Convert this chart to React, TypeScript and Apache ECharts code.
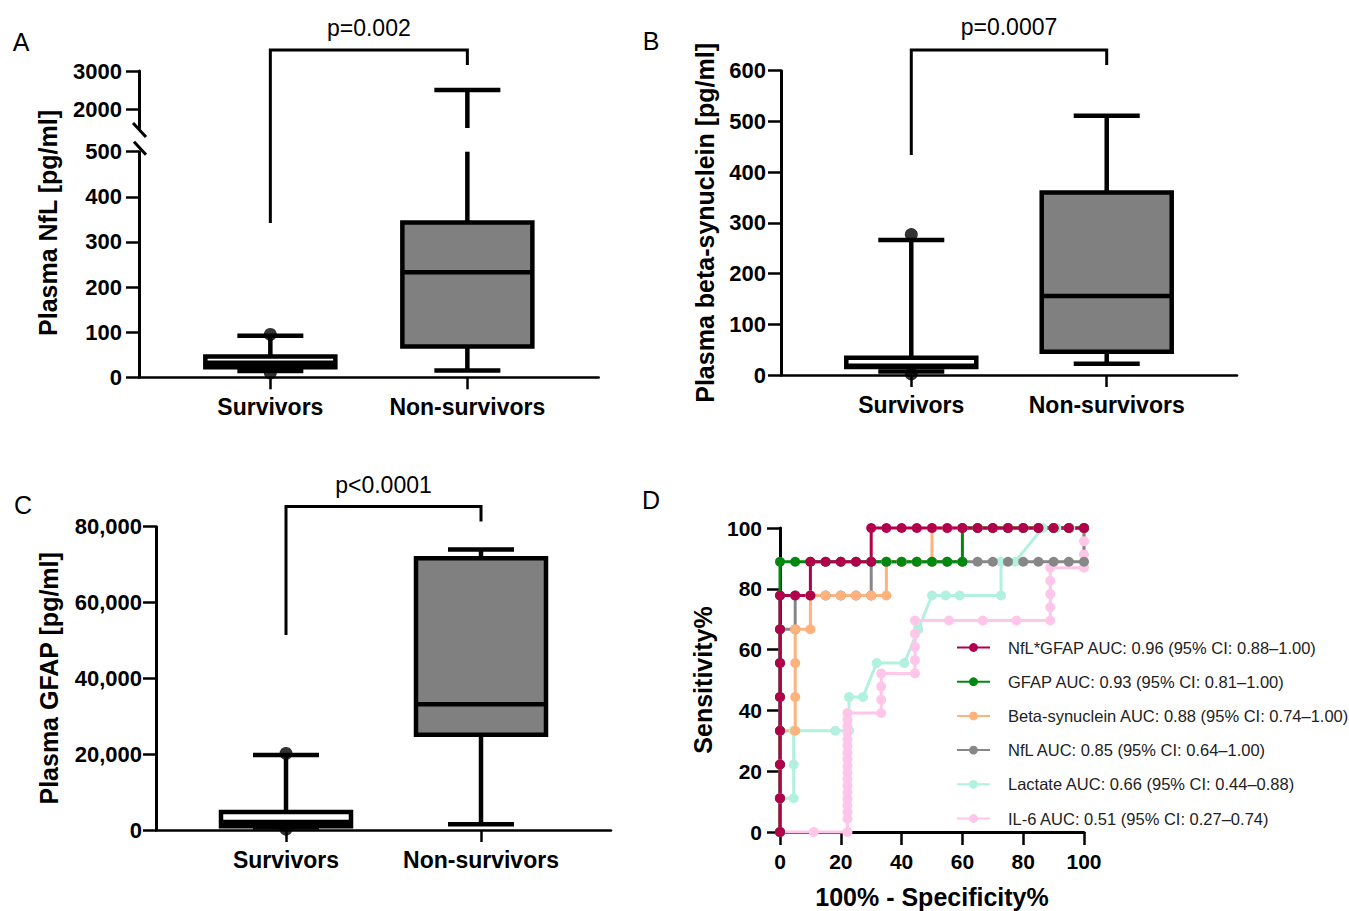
import React, { useEffect, useRef } from "react";
import * as echarts from "echarts";

const FONT = "'Liberation Sans', Arial, Helvetica, sans-serif";

const CATEGORIES = ["Survivors", "Non-survivors"];
const P_LABELS = ["p=0.002", "p=0.0007", "p<0.0001"];

// box statistics: [min, Q1, median, Q3, max]
const NFL_BOX = [
  [14, 22, 32, 46, 92],
  [15, 68, 233, 343, 2500],
];
const NFL_DOTS = [[1, 95], [1, 10]];
const BETA_BOX = [
  [7, 16, 18, 34, 266],
  [22, 46, 156, 360, 511],
];
const BETA_DOTS = [[1, 277], [1, 2]];
const GFAP_BOX = [
  [650, 1000, 2100, 4750, 19800],
  [1500, 25100, 33200, 71700, 74000],
];
const GFAP_DOTS = [[1, 20200], [1, 200]];
const BOX_FILLS = ["#ffffff", "#808080"];

// ROC curves: [100% - specificity, sensitivity]
const ROC_NFL_GFAP = [
  [0, 0], [0, 11.1], [0, 22.2], [0, 33.3], [0, 44.4], [0, 55.6], [0, 66.7], [0, 77.8],
  [5, 77.8], [10, 77.8], [10, 88.9], [15, 88.9], [20, 88.9], [25, 88.9], [30, 88.9],
  [30, 100], [35, 100], [40, 100], [45, 100], [50, 100], [55, 100], [60, 100], [65, 100],
  [70, 100], [75, 100], [80, 100], [85, 100], [90, 100], [95, 100], [100, 100],
];
const ROC_GFAP = [
  [0, 0], [0, 11.1], [0, 22.2], [0, 33.3], [0, 44.4], [0, 55.6], [0, 66.7], [0, 77.8], [0, 88.9],
  [5, 88.9], [10, 88.9], [15, 88.9], [20, 88.9], [25, 88.9], [30, 88.9], [35, 88.9], [40, 88.9],
  [45, 88.9], [50, 88.9], [55, 88.9], [60, 88.9], [60, 100], [65, 100], [70, 100], [75, 100],
  [80, 100], [85, 100], [90, 100], [95, 100], [100, 100],
];
const ROC_BETA = [
  [0, 0], [0, 11.1], [0, 22.2], [0, 33.3], [5, 33.3], [5, 44.4], [5, 55.6], [5, 66.7],
  [10, 66.7], [10, 77.8], [15, 77.8], [20, 77.8], [25, 77.8], [30, 77.8], [35, 77.8],
  [35, 88.9], [40, 88.9], [45, 88.9], [50, 88.9], [50, 100], [55, 100], [60, 100], [65, 100],
  [70, 100], [75, 100], [80, 100], [85, 100], [90, 100], [95, 100], [100, 100],
];
const ROC_NFL = [
  [0, 0], [0, 11.1], [0, 22.2], [0, 33.3], [0, 44.4], [0, 55.6], [0, 66.7], [5, 66.7],
  [5, 77.8], [10, 77.8], [15, 77.8], [20, 77.8], [25, 77.8], [30, 77.8], [30, 88.9],
  [35, 88.9], [40, 88.9], [45, 88.9], [50, 88.9], [55, 88.9], [60, 88.9], [65, 88.9],
  [70, 88.9], [75, 88.9], [80, 88.9], [85, 88.9], [90, 88.9], [95, 88.9], [100, 88.9], [100, 100],
];
const ROC_LACTATE = [
  [0, 0], [0, 11.1], [4.5, 11.1], [4.5, 22.2], [4.5, 33.3], [18.2, 33.3], [22.7, 33.3],
  [22.7, 44.4], [27.3, 44.4], [31.8, 55.6], [40.9, 55.6], [45.5, 66.7], [50, 77.8],
  [54.5, 77.8], [59.1, 77.8], [72.7, 77.8], [72.7, 88.9], [77.3, 88.9], [86.4, 100],
  [90.9, 100], [95.5, 100], [100, 100],
];
const ROC_IL6 = [
  [0, 0], [11.1, 0], [22.2, 0], [22.2, 4.35], [22.2, 6.52], [22.2, 8.7], [22.2, 10.87],
  [22.2, 13.04], [22.2, 15.22], [22.2, 17.39], [22.2, 19.57], [22.2, 21.74], [22.2, 23.91],
  [22.2, 26.09], [22.2, 28.26], [22.2, 30.43], [22.2, 32.61], [22.2, 34.78], [22.2, 36.96],
  [22.2, 39.13], [33.3, 39.13], [33.3, 43.48], [33.3, 47.83], [33.3, 52.17], [44.4, 52.17],
  [44.4, 56.52], [44.4, 60.87], [44.4, 65.22], [44.4, 69.57], [55.6, 69.57], [66.7, 69.57],
  [77.8, 69.57], [88.9, 69.57], [88.9, 73.91], [88.9, 78.26], [88.9, 82.61], [88.9, 86.96],
  [100, 86.96], [100, 91.3], [100, 95.65], [100, 100],
];

const ROC_NAMES = [
  "NfL*GFAP AUC: 0.96 (95% CI: 0.88–1.00)",
  "GFAP AUC: 0.93 (95% CI: 0.81–1.00)",
  "Beta-synuclein AUC: 0.88 (95% CI: 0.74–1.00)",
  "NfL AUC: 0.85 (95% CI: 0.64–1.00)",
  "Lactate AUC: 0.66 (95% CI: 0.44–0.88)",
  "IL-6 AUC: 0.51 (95% CI: 0.27–0.74)",
];
const ROC_COLORS = ["#b3004c", "#00880f", "#ffb27c", "#878787", "#b2f0df", "#ffc6ea"];
const ROC_DATA = [ROC_NFL_GFAP, ROC_GFAP, ROC_BETA, ROC_NFL, ROC_LACTATE, ROC_IL6];
// drawing order (bottom to top)
const ROC_ORDER = [4, 5, 3, 2, 1, 0];

const BOX_HALF = 65;
const CAP_HALF = 33;
const LW = 4.5;

const blk = { stroke: "#000", lineWidth: LW };

function boxRender(params: any, api: any) {
  const cat = api.value(0);
  const mn = api.value(1);
  const q1 = api.value(2);
  const med = api.value(3);
  const q3 = api.value(4);
  const mx = api.value(5);
  const cs = params.coordSys;
  const topLimit = cs.y;
  const pMin = api.coord([cat, mn]);
  const cx = pMin[0];
  const yMin = pMin[1];
  const yQ1 = api.coord([cat, q1])[1];
  const yMed = api.coord([cat, med])[1];
  const yQ3 = api.coord([cat, q3])[1];
  const yMaxRaw = api.coord([cat, mx])[1];
  const capTop = yMaxRaw >= topLimit - 0.5;
  const yMax = Math.max(yMaxRaw, topLimit);
  const children: any[] = [
    { type: "line", shape: { x1: cx, y1: yQ3, x2: cx, y2: yMax }, style: blk },
    { type: "line", shape: { x1: cx, y1: yQ1, x2: cx, y2: yMin }, style: blk },
    { type: "line", shape: { x1: cx - CAP_HALF, y1: yMin, x2: cx + CAP_HALF, y2: yMin }, style: blk },
  ];
  if (capTop) {
    children.push({ type: "line", shape: { x1: cx - CAP_HALF, y1: yMax, x2: cx + CAP_HALF, y2: yMax }, style: blk });
  }
  children.push({
    type: "rect",
    shape: { x: cx - BOX_HALF, y: yQ3, width: BOX_HALF * 2, height: yQ1 - yQ3 },
    style: { fill: BOX_FILLS[params.dataIndex], stroke: "#000", lineWidth: LW },
  });
  children.push({ type: "line", shape: { x1: cx - BOX_HALF, y1: yMed, x2: cx + BOX_HALF, y2: yMed }, style: blk });
  return { type: "group", children };
}

function upperWhiskerRender(params: any, api: any) {
  const cat = api.value(0);
  const mx = api.value(1);
  const cs = params.coordSys;
  const yBot = cs.y + cs.height;
  const p = api.coord([cat, mx]);
  if (p[1] >= yBot) return null;
  const cx = p[0];
  return {
    type: "group",
    children: [
      { type: "line", shape: { x1: cx, y1: yBot, x2: cx, y2: p[1] }, style: blk },
      { type: "line", shape: { x1: cx - CAP_HALF, y1: p[1], x2: cx + CAP_HALF, y2: p[1] }, style: blk },
    ],
  };
}

const tickLabel = (size: number, margin: number, extra: any = {}) => ({
  color: "#000",
  fontSize: size,
  fontWeight: "bold",
  fontFamily: FONT,
  margin,
  ...extra,
});

function catXAxis(gridIndex: number, show = true) {
  return {
    type: "value",
    gridIndex,
    min: 1 / 3,
    max: 8 / 3,
    show,
    axisLine: { show: true, onZero: false, lineStyle: { color: "#000", width: 2.5 } },
    axisTick: { show: true, customValues: [1, 2], length: 12, lineStyle: { color: "#000", width: 2.5 } },
    axisLabel: tickLabel(23, 18, {
      customValues: [1, 2],
      formatter: (v: number) => CATEGORIES[Math.round(v) - 1] ?? "",
    }),
    splitLine: { show: false },
  };
}

function valAxis(gridIndex: number, min: number, max: number, interval: number, labelSize: number, margin: number, extra: any = {}) {
  return {
    type: "value",
    gridIndex,
    min,
    max,
    interval,
    axisLine: { show: true, onZero: false, lineStyle: { color: "#000", width: 3 } },
    axisTick: { show: true, length: 13, lineStyle: { color: "#000", width: 2.5 } },
    axisLabel: tickLabel(labelSize, margin, { formatter: (v: number) => String(v) }),
    splitLine: { show: false },
    ...extra,
  };
}

const nameStyle = { color: "#000", fontSize: 25, fontWeight: "bold", fontFamily: FONT };

function buildOption() {
  const rocSeries = ROC_ORDER.map((i) => ({
    name: ROC_NAMES[i],
    type: "line",
    xAxisIndex: 4,
    yAxisIndex: 4,
    data: ROC_DATA[i],
    symbol: "circle",
    symbolSize: 10,
    showAllSymbol: true,
    clip: false,
    lineStyle: { color: ROC_COLORS[i], width: 3 },
    itemStyle: { color: ROC_COLORS[i] },
    emphasis: { disabled: true },
  }));

  return {
    animation: false,
    backgroundColor: "#fff",
    textStyle: { fontFamily: FONT },
    grid: [
      { left: 139, top: 151.7, width: 459.7, height: 225.6 },
      { left: 139, top: 71, width: 459.7, height: 57 },
      { left: 781, top: 70.7, width: 456, height: 304.3 },
      { left: 156, top: 526.7, width: 455, height: 303.3 },
      { left: 780, top: 528, width: 304, height: 304 },
    ],
    xAxis: [
      catXAxis(0),
      catXAxis(1, false),
      catXAxis(2),
      catXAxis(3),
      {
        ...valAxis(4, 0, 100, 20, 21, 19),
        name: "100% - Specificity%",
        nameLocation: "middle",
        nameGap: 52,
        nameTextStyle: nameStyle,
      },
    ],
    yAxis: [
      valAxis(0, 0, 500, 100, 22, 17),
      {
        ...valAxis(1, 1500, 3000, 500, 22, 17),
        axisTick: { show: true, length: 13, customValues: [2000, 3000], lineStyle: { color: "#000", width: 2.5 } },
        axisLabel: tickLabel(22, 17, { customValues: [2000, 3000], formatter: (v: number) => String(v) }),
      },
      {
        ...valAxis(2, 0, 600, 100, 22, 15),
        name: "Plasma beta-synuclein [pg/ml]",
        nameLocation: "middle",
        nameGap: 64,
        nameTextStyle: nameStyle,
      },
      {
        ...valAxis(3, 0, 80000, 20000, 22, 14),
        axisLabel: tickLabel(22, 14, {
          formatter: (v: number) => v.toLocaleString("en-US"),
        }),
        name: "Plasma GFAP [pg/ml]",
        nameLocation: "middle",
        nameGap: 95,
        nameTextStyle: nameStyle,
      },
      {
        ...valAxis(4, 0, 100, 20, 21, 18),
        name: "Sensitivity%",
        nameLocation: "middle",
        nameGap: 65,
        nameTextStyle: nameStyle,
      },
    ],
    legend: {
      orient: "vertical",
      left: 956,
      top: 639,
      padding: 0,
      itemWidth: 33,
      itemHeight: 11,
      itemGap: 17.2,
      selectedMode: false,
      data: ROC_NAMES,
      textStyle: { fontSize: 16.5, color: "#222", fontFamily: FONT, padding: [0, 0, 0, 13] },
    },
    series: [
      {
        type: "custom",
        xAxisIndex: 0,
        yAxisIndex: 0,
        renderItem: boxRender,
        data: NFL_BOX.map((b, i) => [i + 1, ...b]),
        encode: { x: 0, y: [1, 2, 3, 4, 5] },
        clip: false,
      },
      {
        type: "custom",
        xAxisIndex: 1,
        yAxisIndex: 1,
        renderItem: upperWhiskerRender,
        data: NFL_BOX.map((b, i) => [i + 1, b[4]]),
        encode: { x: 0, y: 1 },
        clip: false,
      },
      {
        type: "scatter",
        xAxisIndex: 0,
        yAxisIndex: 0,
        data: NFL_DOTS,
        symbolSize: 13,
        itemStyle: { color: "#000" },
        clip: false,
      },
      {
        type: "custom",
        xAxisIndex: 2,
        yAxisIndex: 2,
        renderItem: boxRender,
        data: BETA_BOX.map((b, i) => [i + 1, ...b]),
        encode: { x: 0, y: [1, 2, 3, 4, 5] },
        clip: false,
      },
      {
        type: "scatter",
        xAxisIndex: 2,
        yAxisIndex: 2,
        data: BETA_DOTS,
        symbolSize: 13,
        itemStyle: { color: "#000" },
        clip: false,
      },
      {
        type: "custom",
        xAxisIndex: 3,
        yAxisIndex: 3,
        renderItem: boxRender,
        data: GFAP_BOX.map((b, i) => [i + 1, ...b]),
        encode: { x: 0, y: [1, 2, 3, 4, 5] },
        clip: false,
      },
      {
        type: "scatter",
        xAxisIndex: 3,
        yAxisIndex: 3,
        data: GFAP_DOTS,
        symbolSize: 13,
        itemStyle: { color: "#000" },
        clip: false,
      },
      ...rocSeries,
    ],
  };
}

function buildGraphics(chart: any) {
  const px = (g: number, x: number, y: number) => chart.convertToPixel({ gridIndex: g }, [x, y]);
  const line = (a: number[], b: number[], w = 3) => ({
    type: "line",
    shape: { x1: a[0], y1: a[1], x2: b[0], y2: b[1] },
    style: { stroke: "#000", lineWidth: w },
    silent: true,
  });
  const text = (x: number, y: number, t: string, size: number, weight = "normal", rotation = 0) => ({
    type: "text",
    x,
    y,
    rotation,
    silent: true,
    style: {
      text: t,
      fill: "#000",
      fontSize: size,
      fontWeight: weight,
      fontFamily: FONT,
      align: "center",
      verticalAlign: "middle",
      textAlign: "center",
      textVerticalAlign: "middle",
    },
  });
  const bracket = (topL: number[], topR: number[], botL: number[], botR: number[]) => ({
    type: "polyline",
    shape: { points: [[topL[0], botL[1]], [topL[0], topL[1]], [topR[0], topR[1]], [topR[0], botR[1]]] },
    style: { stroke: "#000", lineWidth: 3, fill: "none" },
    silent: true,
  });
  const els: any[] = [];

  // panel A bracket (top in upper grid, left leg ends in lower grid)
  {
    const tl = px(1, 1, 3553);
    const tr = px(1, 2, 3553);
    const bl = px(0, 1, 342);
    const br = px(1, 2, 3158);
    els.push(bracket(tl, tr, bl, br));
    const t = px(1, 1.5, 4130);
    els.push(text(t[0], t[1], P_LABELS[0], 23));
  }
  {
    const tl = px(2, 1, 641);
    const tr = px(2, 2, 641);
    const bl = px(2, 1, 434);
    const br = px(2, 2, 611);
    els.push(bracket(tl, tr, bl, br));
    const t = px(2, 1.5, 686);
    els.push(text(t[0], t[1], P_LABELS[1], 23));
  }
  {
    const tl = px(3, 1, 85300);
    const tr = px(3, 2, 85300);
    const bl = px(3, 1, 51450);
    const br = px(3, 2, 81350);
    els.push(bracket(tl, tr, bl, br));
    const t = px(3, 1.5, 91000);
    els.push(text(t[0], t[1], P_LABELS[2], 23));
  }

  // axis break marks on panel A
  {
    const up = px(1, 1 / 3, 1500);
    const lo = px(0, 1 / 3, 500);
    const ax = up[0];
    els.push({ type: "rect", shape: { x: ax - 3, y: up[1] - 5, width: 6, height: lo[1] - up[1] + 4 }, style: { fill: "#fff" }, silent: true });
    els.push(line([ax - 6, up[1] - 5], [ax + 7, up[1] + 9], 3));
    els.push(line([ax - 5, lo[1] - 10], [ax + 7, lo[1] + 3], 3));
  }

  // y title of panel A
  els.push(text(48, 223, "Plasma NfL [pg/ml]", 25, "bold", Math.PI / 2));

  // panel letters
  els.push(text(21, 42, "A", 25));
  els.push(text(651, 41, "B", 25));
  els.push(text(23, 505, "C", 25));
  els.push(text(651, 500, "D", 25));

  return els;
}

export default function App() {
  const ref = useRef<HTMLDivElement>(null);
  useEffect(() => {
    document.body.style.margin = "0";
    const el = ref.current!;
    const chart = echarts.init(el, null, { renderer: "svg" });
    chart.setOption(buildOption() as any);
    chart.setOption({ graphic: { elements: buildGraphics(chart) } } as any);
    return () => chart.dispose();
  }, []);
  return (
    <div
      ref={ref}
      style={{ position: "fixed", left: 0, top: 0, width: 1349, height: 911, background: "#fff" }}
    />
  );
}
